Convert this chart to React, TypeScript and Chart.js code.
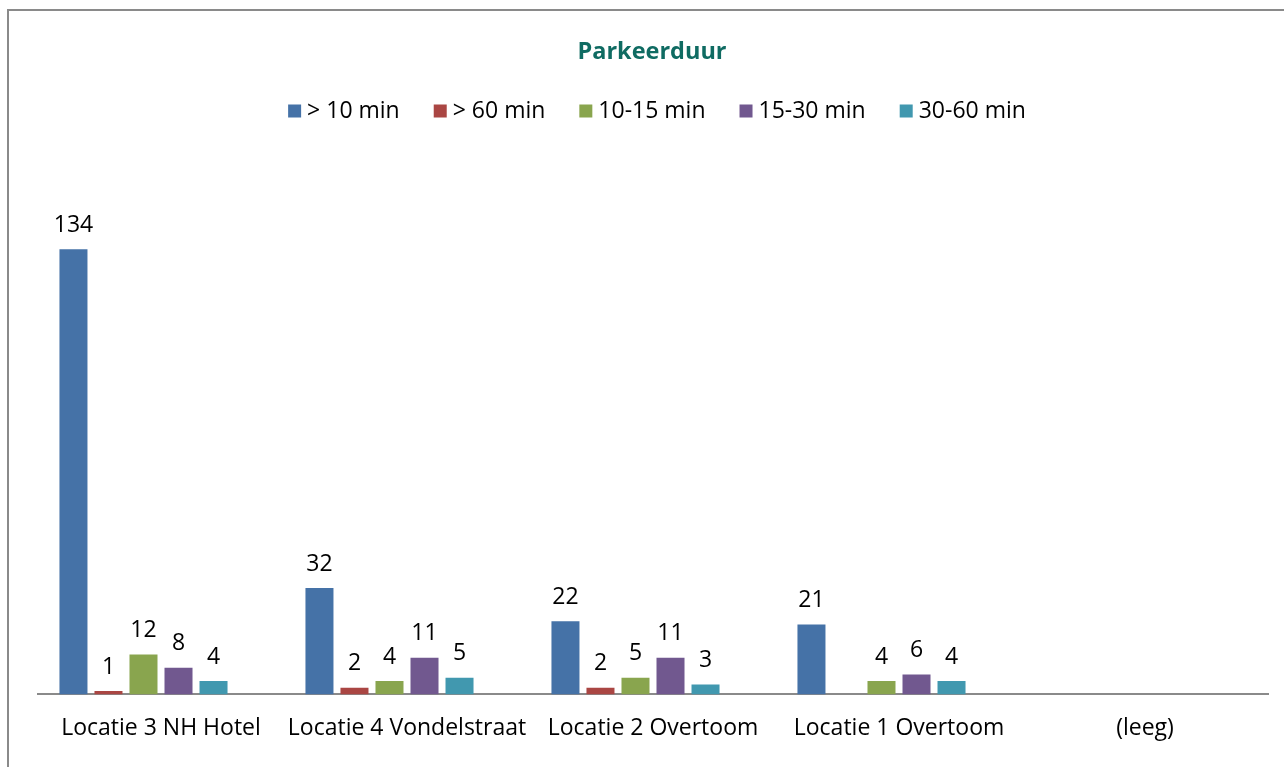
import React, { useEffect, useRef } from "react";
import { Chart, registerables } from "chart.js";

Chart.register(...registerables);

const categories = ["Locatie 3 NH Hotel", "Locatie 4 Vondelstraat", "Locatie 2 Overtoom", "Locatie 1 Overtoom", "(leeg)"];
const seriesNames = ["> 10 min", "> 60 min", "10-15 min", "15-30 min", "30-60 min"];
const seriesColors = ["#4572A7", "#AA4643", "#89A54E", "#71588F", "#4198AF"];
const over10 = [134, 32, 22, 21, null];
const over60 = [1, 2, 2, null, null];
const min10to15 = [12, 4, 5, 4, null];
const min15to30 = [8, 11, 11, 6, null];
const min30to60 = [4, 5, 3, 4, null];
const emptySeries = [null, null, null, null, null];
const titleText = "Parkeerduur";

const FONT = "'Open Sans'";
const FSIZE = 23;

const overlayPlugin = {
  id: "overlay",
  afterDatasetsDraw(chart: any) {
    const ctx = chart.ctx;
    ctx.save();
    // data labels
    ctx.font = `${FSIZE}px ${FONT}`;
    ctx.fillStyle = "#000";
    ctx.textAlign = "center";
    ctx.textBaseline = "middle";
    chart.data.datasets.forEach((ds: any, di: number) => {
      if (ds.hiddenLegend) return;
      const meta = chart.getDatasetMeta(di);
      meta.data.forEach((bar: any, i: number) => {
        const v = ds.data[i];
        if (v === null || v === undefined) return;
        ctx.fillText(String(v), bar.x, bar.y - 24);
      });
    });
    // title
    ctx.font = `bold 23.5px ${FONT}`;
    ctx.fillStyle = "#0F6B62";
    ctx.fillText(titleText, 652, 52);
    // legend
    ctx.font = `${FSIZE}px ${FONT}`;
    const items = chart.data.datasets.filter((d: any) => !d.hiddenLegend);
    const box = 13, gap = 6, spacing = 34;
    const widths = items.map((d: any) => box + gap + ctx.measureText(d.label).width);
    const total = widths.reduce((a: number, b: number) => a + b, 0) + spacing * (items.length - 1);
    let x = 657 - total / 2;
    const y = 111;
    ctx.textAlign = "left";
    items.forEach((d: any, i: number) => {
      ctx.fillStyle = d.backgroundColor;
      ctx.fillRect(x, y - box / 2, box, box);
      ctx.fillStyle = "#000";
      ctx.fillText(d.label, x + box + gap, y);
      x += widths[i] + spacing;
    });
    ctx.restore();
  },
};

export default function App() {
  const ref = useRef<HTMLCanvasElement>(null);
  useEffect(() => {
    const values = [over10, over60, min10to15, min15to30, min30to60];
    const datasets: any[] = seriesNames.map((name, i) => ({
      label: name,
      data: values[i],
      backgroundColor: seriesColors[i],
      categoryPercentage: 0.854,
      barPercentage: 0.8,
    }));
    datasets.push({
      label: "(leeg)",
      data: emptySeries,
      backgroundColor: "#ffffff",
      hiddenLegend: true,
      categoryPercentage: 0.854,
      barPercentage: 0.8,
    });
    const chart = new Chart(ref.current!, {
      type: "bar",
      data: { labels: categories, datasets },
      options: {
        animation: false,
        responsive: false,
        layout: { padding: { left: 38, right: 16, top: 196, bottom: 5 } },
        plugins: {
          legend: { display: false },
          title: { display: false },
          tooltip: { enabled: false },
        },
        scales: {
          y: { display: false, min: 0, max: 150 },
          x: {
            grid: { display: false, drawTicks: false },
            border: { display: true, color: "#8a8a8a", width: 2 },
            ticks: { color: "#000", font: { family: FONT, size: FSIZE }, padding: 20, maxRotation: 0, autoSkip: false },
          },
        },
      },
      plugins: [overlayPlugin],
    });
    return () => chart.destroy();
  }, []);
  return (
    <div style={{ position: "fixed", left: 0, top: 0, width: 1284, height: 767, background: "#fff" }}>
      <div style={{ position: "absolute", left: 7, top: 9, width: 1300, height: 800, borderLeft: "2px solid #8a8a8a", borderTop: "2px solid #8a8a8a" }} />
      <canvas ref={ref} width={1284} height={767} style={{ position: "absolute", left: 0, top: 0 }} />
    </div>
  );
}
